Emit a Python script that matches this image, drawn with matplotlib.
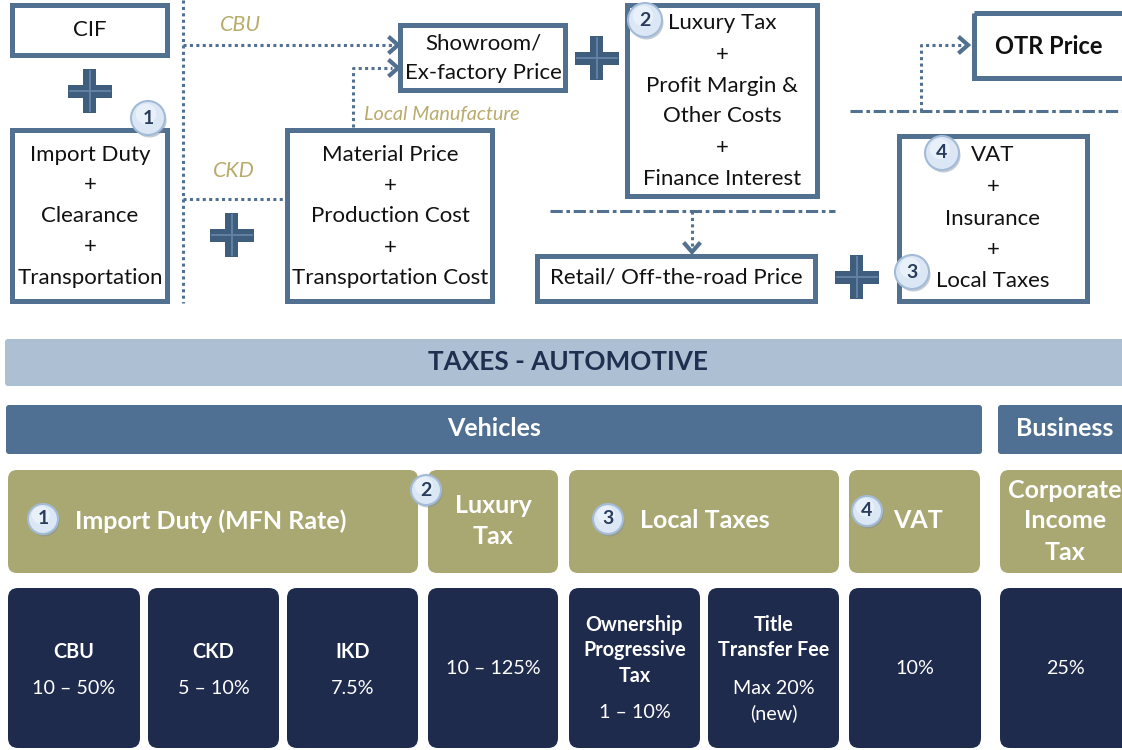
import matplotlib
matplotlib.use('Agg')
import matplotlib.pyplot as plt
from matplotlib.patches import Rectangle, FancyBboxPatch, Circle
from matplotlib.lines import Line2D

plt.rcParams['font.family'] = ['Lato', 'DejaVu Sans']

# ---------------- text content ----------------
cif_label = 'CIF'
import_lines = ['Import Duty', '+', 'Clearance', '+', 'Transportation']
material_lines = ['Material Price', '+', 'Production Cost', '+', 'Transportation Cost']
showroom_lines = ['Showroom/', 'Ex-factory Price']
luxury_lines = ['Luxury Tax', '+', 'Profit Margin &', 'Other Costs', '+', 'Finance Interest']
retail_label = 'Retail/ Off-the-road Price'
vat_lines = ['VAT', '+', 'Insurance', '+', 'Local Taxes']
otr_label = 'OTR Price'
route_labels = ['CBU', 'CKD', 'Local Manufacture']

banner = 'TAXES - AUTOMOTIVE'
groups = ['Vehicles', 'Business']
headings = ['Import Duty (MFN Rate)', 'Luxury\nTax', 'Local Taxes', 'VAT', 'Corporate\nIncome\nTax']
heading_badges = ['1', '2', '3', '4', '']
cell_titles = ['CBU', 'CKD', 'IKD', '', 'Ownership\nProgressive\nTax', 'Title\nTransfer Fee', '', '']
cell_rates = ['10 – 50%', '5 – 10%', '7.5%', '10 – 125%', '1 – 10%', 'Max 20%\n(new)', '10%', '25%']

# ---------------- colours ----------------
EDGE = '#52708f'
PLUS_DARK = '#3f5d7d'
PLUS_LIGHT = '#6485a8'
TAN = '#b9ab6c'
OLIVE = '#aaa872'
NAVY = '#1f2b4d'
BAND_LIGHT = '#adbfd3'
BAND_DARK = '#4f7093'
TXT = '#111111'

fig = plt.figure(figsize=(11.22, 7.5), dpi=100)
ax = fig.add_axes([0, 0, 1, 1])
ax.set_xlim(0, 1122)
ax.set_ylim(750, 0)
ax.axis('off')


def box(x0, y0, x1, y1):
    ax.add_patch(Rectangle((x0 + 2.5, y0 + 2.5), x1 - x0 - 5, y1 - y0 - 5,
                           fill=False, ec=EDGE, lw=3.6, zorder=3))


def lines_at(x, ys, texts, size=16, weight='normal'):
    for y, t in zip(ys, texts):
        ax.text(x, y, t, ha='center', va='center', fontsize=size,
                color=TXT, weight=weight, zorder=5)


def stack(x, y_first, text, step, ha='center', **kw):
    for k, t in enumerate(text.split('\n')):
        ax.text(x, y_first + k * step, t, ha=ha, va='center', zorder=5, **kw)


def plus(cx, cy, s=44, t=13):
    ax.add_patch(Rectangle((cx - s / 2, cy - t / 2), s, t, fc=PLUS_DARK, ec='none', zorder=4))
    ax.add_patch(Rectangle((cx - t / 2, cy - s / 2), t, s, fc=PLUS_DARK, ec='none', zorder=4))
    ax.plot([cx - s / 2 + 2, cx + s / 2 - 2], [cy, cy], color=PLUS_LIGHT, lw=1.3, zorder=5)
    ax.plot([cx, cx], [cy - s / 2 + 2, cy + s / 2 - 2], color=PLUS_LIGHT, lw=1.3, zorder=5)


def badge(cx, cy, label, r=16):
    ax.add_patch(Circle((cx + 1.5, cy + 2.5), r, fc='#7f8ea3', ec='none', alpha=0.45, zorder=6))
    ax.add_patch(Circle((cx, cy), r, fc='#dbe7f5', ec='#a3bbd7', lw=1.5, zorder=7))
    ax.add_patch(Circle((cx - 2, cy - 4), r * 0.6, fc='#f2f7fd', ec='none', alpha=0.6, zorder=7))
    ax.text(cx, cy, label, ha='center', va='center', fontsize=14, weight='bold',
            color='#2b3d5c', zorder=8)


def dotted(xs, ys):
    ax.plot(xs, ys, color=EDGE, lw=2.2, ls=(0, (1, 1.1)), zorder=2)


def dashdot(x0, x1, y):
    ax.plot([x0, x1], [y, y], color=EDGE, lw=2.2, ls=(0, (4, 1.2, 1.2, 1.2)), zorder=2)


def chevron(x, y, direction='right', d=8, w=7):
    if direction == 'right':
        xs, ys = [x - d, x, x - d], [y - w, y, y + w]
    else:
        xs, ys = [x - w, x, x + w], [y - d, y, y - d]
    ax.add_line(Line2D(xs, ys, color=EDGE, lw=3, solid_joinstyle='miter', zorder=3))


# ---------------- top flow diagram ----------------
box(10, 2, 170, 57)
ax.text(90, 30, cif_label, ha='center', va='center', fontsize=16, color=TXT)
plus(90, 91)
box(10, 127, 170, 303)
lines_at(90, [155, 185, 216, 247, 278], import_lines)
badge(148, 118, '1', r=17)

dotted([183, 183], [0, 303])
dotted([183, 392], [45, 45])
chevron(398, 45)
ax.text(241, 25, route_labels[0], ha='center', va='center', fontsize=15.5, style='italic', color=TAN)
dotted([183, 285], [199, 199])
ax.text(234, 171, route_labels[1], ha='center', va='center', fontsize=15.5, style='italic', color=TAN)
dotted([353, 353, 392], [127, 68, 68])
chevron(398, 68)
ax.text(364, 114, route_labels[2], ha='left', va='center', fontsize=14.3, style='italic', color=TAN)

plus(232, 235)
box(285, 127, 495, 303)
lines_at(390, [155, 186, 216, 248, 278], material_lines)

box(398, 22, 568, 92)
lines_at(483, [43, 73], showroom_lines)
plus(597, 58)

box(625, 2, 820, 198)
lines_at(722, [23, 55, 86, 116, 148, 179], luxury_lines)
badge(645, 20, '2', r=17)

dashdot(550, 835, 211)
dotted([692, 692], [211, 246])
chevron(692, 252, direction='down')
box(535, 253, 818, 303)
ax.text(676, 278, retail_label, ha='center', va='center', fontsize=16, color=TXT)
plus(857, 277)

box(897, 133, 1090, 303)
lines_at(993, [155, 187, 219, 250, 281], vat_lines)
badge(942, 153, '4', r=17)
badge(912, 272, '3', r=17)

dashdot(850, 1122, 111)
dotted([921, 921, 962], [111, 45, 45])
chevron(968, 45)
ax.add_patch(Rectangle((974.5, 12.5), 200, 65, fill=False, ec=EDGE, lw=3.6, zorder=3))
ax.text(1049, 46, otr_label, ha='center', va='center', fontsize=17, weight='bold', color=TXT)

# ---------------- tax table ----------------
ax.add_patch(FancyBboxPatch((5, 339), 1130, 47, boxstyle='round,pad=0,rounding_size=3',
                            fc=BAND_LIGHT, ec='none', zorder=1))
ax.text(568, 362, banner, ha='center', va='center', fontsize=18.8, weight='bold', color='#1e2f4f')

group_x = [(6, 982), (998, 1130)]
group_text_x = [494, 1065]
for (x0, x1), tx, g in zip(group_x, group_text_x, groups):
    ax.add_patch(FancyBboxPatch((x0, 405), x1 - x0, 49, boxstyle='round,pad=0,rounding_size=3',
                                fc=BAND_DARK, ec='none', zorder=1))
    ax.text(tx, 429, g, ha='center', va='center', fontsize=18, weight='bold', color='white')

head_x = [(8, 418), (428, 558), (569, 839), (849, 980), (1000, 1135)]
head_text = [(75, 'left'), (493, 'center'), (640, 'left'), (893, 'left'), (1065, 'center')]
badge_xy = [(43, 519), (426, 490), (608, 519), (867, 511), None]
for (x0, x1), (tx, ha), h, b, bxy in zip(head_x, head_text, headings, heading_badges, badge_xy):
    ax.add_patch(FancyBboxPatch((x0, 470), x1 - x0, 103, boxstyle='round,pad=0,rounding_size=9',
                                fc=OLIVE, ec='none', zorder=1))
    n = h.count('\n')
    stack(tx, 521 - n * 15.5, h, 31, ha=ha, fontsize=18, weight='bold', color='white')
    if b:
        badge(bxy[0], bxy[1], b, r=15)

cell_x = [(8, 140), (148, 279), (287, 418), (428, 558), (569, 700), (708, 839), (849, 981), (1000, 1135)]
title_y = [652, 652, 652, None, 625, 625, None, None]
rate_y = [688, 688, 688, 668, 713, 688, 668, 668]
for (x0, x1), t, r, ty, ry in zip(cell_x, cell_titles, cell_rates, title_y, rate_y):
    ax.add_patch(FancyBboxPatch((x0, 588), x1 - x0, 160, boxstyle='round,pad=0,rounding_size=10',
                                fc=NAVY, ec='none', zorder=1))
    cx = (x0 + x1) / 2 if x1 < 1122 else 1065
    if t:
        stack(cx, ty, t, 25.5, fontsize=14.2, weight='bold', color='white')
    stack(cx, ry, r, 25, fontsize=14.2, color='white')

fig.savefig('out.png', dpi=100)
